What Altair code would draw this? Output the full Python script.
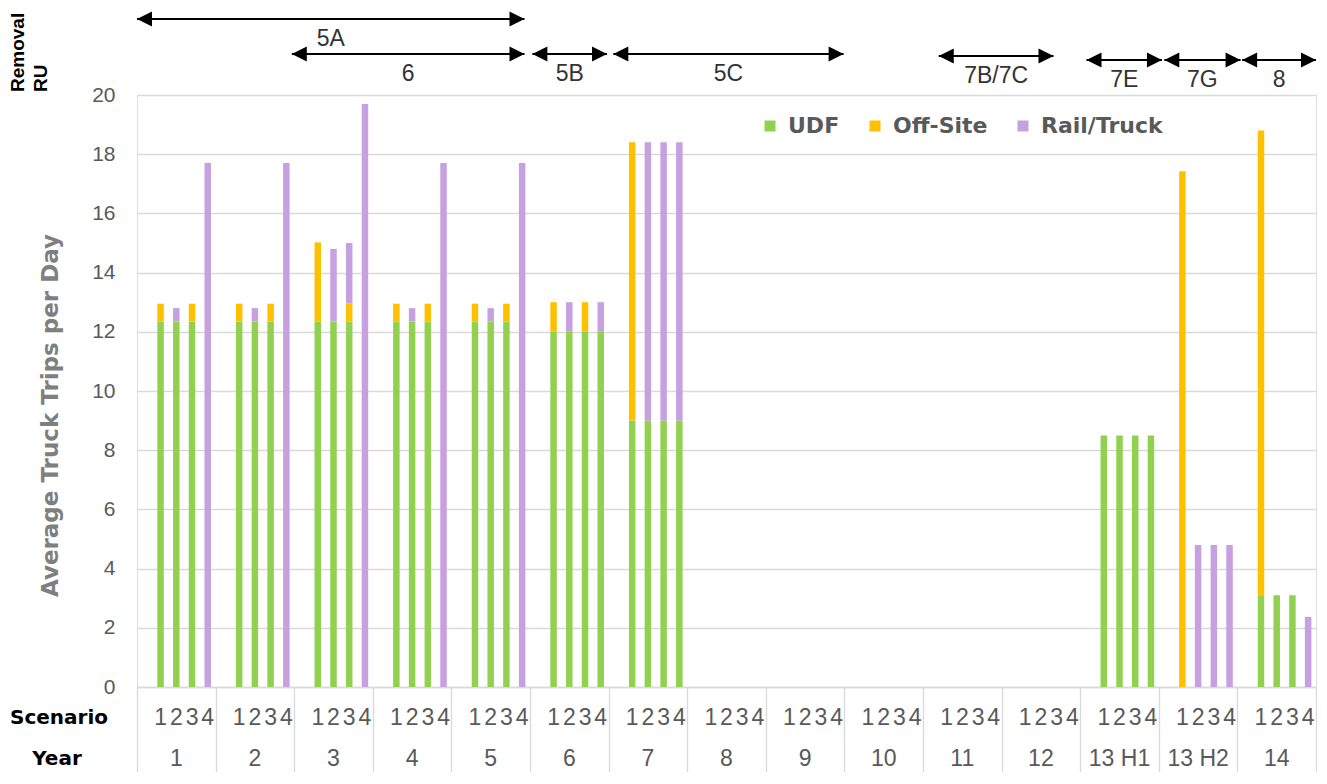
import altair as alt
import pandas as pd

# ---------------- data ----------------
years = ["1", "2", "3", "4", "5", "6", "7", "8", "9", "10", "11", "12", "13 H1", "13 H2", "14"]
scenarios = ["1", "2", "3", "4"]
series = ["UDF", "Off-Site", "Rail/Truck"]
series_colors = ["#92D050", "#FFC000", "#C7A0E0"]

# average truck trips per day, per scenario, per year
udf_trips = {
    "1": [12.35, 12.35, 12.35, 12.35, 12.35, 12.0, 9.0, 0, 0, 0, 0, 0, 8.5, 0, 3.1],
    "2": [12.35, 12.35, 12.35, 12.35, 12.35, 12.0, 9.0, 0, 0, 0, 0, 0, 8.5, 0, 3.1],
    "3": [12.35, 12.35, 12.35, 12.35, 12.35, 12.0, 9.0, 0, 0, 0, 0, 0, 8.5, 0, 3.1],
    "4": [0, 0, 0, 0, 0, 12.0, 9.0, 0, 0, 0, 0, 0, 8.5, 0, 0],
}
offsite_trips = {
    "1": [0.6, 0.6, 2.67, 0.6, 0.6, 1.0, 9.4, 0, 0, 0, 0, 0, 0, 17.42, 15.7],
    "2": [0, 0, 0, 0, 0, 0, 0, 0, 0, 0, 0, 0, 0, 0, 0],
    "3": [0.6, 0.6, 0.61, 0.6, 0.6, 1.0, 0, 0, 0, 0, 0, 0, 0, 0, 0],
    "4": [0, 0, 0, 0, 0, 0, 0, 0, 0, 0, 0, 0, 0, 0, 0],
}
rail_truck_trips = {
    "1": [0, 0, 0, 0, 0, 0, 0, 0, 0, 0, 0, 0, 0, 0, 0],
    "2": [0.45, 0.45, 2.45, 0.45, 0.45, 1.0, 9.4, 0, 0, 0, 0, 0, 0, 4.8, 0],
    "3": [0, 0, 2.04, 0, 0, 0, 9.4, 0, 0, 0, 0, 0, 0, 4.8, 0],
    "4": [17.7, 17.7, 19.7, 17.7, 17.7, 1.0, 9.4, 0, 0, 0, 0, 0, 0, 4.8, 2.37],
}

# Removal RU spans (in year-group units along the axis)
ru_labels = ["5A", "6", "5B", "5C", "7B/7C", "7E", "7G", "8"]
ru_start = [0.0, 1.97, 5.03, 6.06, 10.2, 12.08, 13.07, 14.06]
ru_end = [4.93, 4.93, 5.98, 8.99, 11.66, 13.04, 14.04, 15.0]
ru_row = [0, 1, 1, 1, 2, 3, 3, 3]

# ---------------- layout ----------------
W, H = 1179, 592
ROW_PX = {0: -76, 1: -41, 2: -39, 3: -35}
GRID = "#D9D9D9"
LABEL_GREY = "#595959"

rows = []
for si, (name, table) in enumerate(zip(series, [udf_trips, offsite_trips, rail_truck_trips])):
    for s in scenarios:
        for yr, v in zip(years, table[s]):
            if v > 0:
                rows.append({"year": yr, "scenario": s, "series": name, "ord": si, "trips": v})
bar_df = pd.DataFrame(rows)

arrow_df = pd.DataFrame({
    "label": ru_labels,
    "start": ru_start,
    "end": ru_end,
    "row": ru_row,
})
arrow_df["ypx"] = arrow_df["row"].map(ROW_PX)
arrow_df["mid"] = (arrow_df["start"] + arrow_df["end"]) / 2
arrow_df["ly"] = arrow_df["ypx"] + 20

scen_rows = []
for i, yr in enumerate(years):
    for k, s in enumerate(scenarios):
        scen_rows.append({"pos": i + (k + 1.5) / 5, "scenario": s})
scen_df = pd.DataFrame(scen_rows)
year_df = pd.DataFrame({"pos": [i + 0.5 for i in range(len(years))], "year": years})


def qx(field):
    return alt.X(field, type="quantitative",
                 scale=alt.Scale(domain=[0, len(years)], nice=False, zero=False), axis=None)


bars = alt.Chart(bar_df).mark_bar().encode(
    x=alt.X("year:N", sort=years,
            scale=alt.Scale(domain=years, paddingInner=0, paddingOuter=0),
            axis=alt.Axis(labels=False, title=None, ticks=True, tickBand="extent",
                          tickSize=85, tickColor=GRID, tickWidth=1.3,
                          domainColor=GRID, domainWidth=1.3, grid=False)),
    xOffset=alt.XOffset("scenario:N",
                        scale=alt.Scale(domain=["0", "1", "2", "3", "4"],
                                        paddingInner=0.587, paddingOuter=0.2935)),
    y=alt.Y("trips:Q", stack="zero",
            scale=alt.Scale(domain=[0, 20], nice=False),
            axis=alt.Axis(values=list(range(0, 21, 2)), grid=True, gridColor=GRID,
                          gridWidth=1.5, domain=False, ticks=False,
                          labelFont="Liberation Sans", labelFontSize=21,
                          labelColor=LABEL_GREY, labelPadding=22,
                          title="Average Truck Trips per Day", titleFont="DejaVu Sans",
                          titleFontSize=23, titleFontWeight="bold", titleColor="#7F7F7F",
                          titleX=-87, titleY=320, titleAngle=270,
                          titleBaseline="middle", titleAlign="center")),
    color=alt.Color("series:N",
                    scale=alt.Scale(domain=series, range=series_colors),
                    legend=alt.Legend(orient="none", legendX=622, legendY=20,
                                      direction="horizontal", title=None,
                                      symbolType="square", symbolSize=121,
                                      symbolStrokeWidth=0, labelFont="DejaVu Sans",
                                      labelFontWeight="bold", labelFontSize=22,
                                      labelColor=LABEL_GREY, labelOffset=7,
                                      columnPadding=24)),
    order=alt.Order("ord:Q"),
)

yp = alt.Y("ypx:Q", scale=None, axis=None)

lines = alt.Chart(arrow_df).mark_rule(color="black", strokeWidth=2).encode(
    x=qx("start"), x2="end", y=yp)
heads_l = alt.Chart(arrow_df).mark_point(
    shape="M0,0L1,-0.5L1,0.5Z", filled=True, color="black", size=900, opacity=1,
    strokeWidth=0).encode(x=qx("start"), y=yp)
heads_r = alt.Chart(arrow_df).mark_point(
    shape="M0,0L-1,-0.5L-1,0.5Z", filled=True, color="black", size=900, opacity=1,
    strokeWidth=0).encode(x=qx("end"), y=yp)
ru_text = alt.Chart(arrow_df).mark_text(
    font="Liberation Sans", fontSize=23, color="#333333", baseline="middle",
    align="center").encode(x=qx("mid"), y=alt.Y("ly:Q", scale=None, axis=None),
                           text="label:N")

scen_text = alt.Chart(scen_df).mark_text(
    font="Liberation Sans", fontSize=23, color=LABEL_GREY, baseline="middle",
    align="center").encode(x=qx("pos"), y=alt.value(H + 31), text="scenario:N")
year_text = alt.Chart(year_df).mark_text(
    font="Liberation Sans", fontSize=23, color=LABEL_GREY, baseline="middle",
    align="center").encode(x=qx("pos"), y=alt.value(H + 72), text="year:N")

scen_hdr = alt.Chart(pd.DataFrame({"t": ["Scenario"]})).mark_text(
    font="DejaVu Sans", fontSize=20, fontWeight="bold", color="black",
    baseline="middle", align="center").encode(
    x=alt.value(-78), y=alt.value(H + 31), text="t:N")
year_hdr = alt.Chart(pd.DataFrame({"t": ["Year"]})).mark_text(
    font="DejaVu Sans", fontSize=20, fontWeight="bold", color="black",
    baseline="middle", align="center").encode(
    x=alt.value(-80), y=alt.value(H + 72), text="t:N")
removal = alt.Chart(pd.DataFrame({"t": ["Removal"]})).mark_text(
    font="Liberation Sans", fontSize=19, fontWeight="bold", color="black",
    baseline="middle", align="left", angle=270).encode(
    x=alt.value(-119), y=alt.value(-3), text="t:N")
ru_hdr = alt.Chart(pd.DataFrame({"t": ["RU"]})).mark_text(
    font="Liberation Sans", fontSize=19, fontWeight="bold", color="black",
    baseline="middle", align="left", angle=270).encode(
    x=alt.value(-96), y=alt.value(-3), text="t:N")

chart = alt.layer(
    bars, lines, heads_l, heads_r, ru_text, scen_text, year_text,
    scen_hdr, year_hdr, removal, ru_hdr,
).resolve_scale(x="independent").properties(
    width=W, height=H,
    padding={"left": 129, "top": 87, "right": 1, "bottom": 85},
    autosize=alt.AutoSizeParams(type="none"),
).configure_view(stroke=None).configure(font="Liberation Sans", background="white")

chart.save("out.html", embed_options={"renderer": "svg", "actions": False})
